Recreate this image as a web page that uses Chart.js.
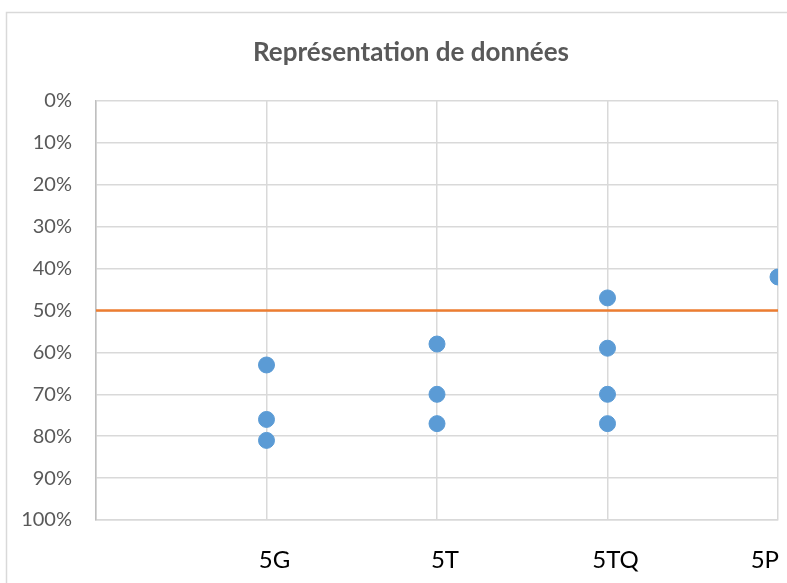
<!DOCTYPE html>
<html><head><meta charset="utf-8">
<script src="https://cdn.jsdelivr.net/npm/chart.js@4.4.0/dist/chart.umd.min.js"></script>
<style>html,body{margin:0;padding:0;background:#fff}#wrap{width:787px;height:583px}</style>
</head><body><div id="wrap"><canvas id="c" width="787" height="583"></canvas></div>
<script>
const categories = ['5G','5T','5TQ','5P'];
const values5G  = [63, 76, 81];
const values5T  = [58, 70, 77];
const values5TQ = [47, 59, 70, 77];
const values5P  = [42];
const seuil = 50;
const yTicks = [0,10,20,30,40,50,60,70,80,90,100];
const title = 'Représentation de données';

const groups = [values5G, values5T, values5TQ, values5P];
const points = [];
groups.forEach((g,i)=>g.forEach(v=>points.push({x:i+1,y:v})));

const deco = {
  id:'deco',
  beforeDraw(chart){
    const c = chart.ctx;
    c.save();
    c.strokeStyle='#d9d9d9'; c.lineWidth=1.5;
    c.strokeRect(6.5,12.5,900,700);
    c.restore();
  },
  afterDraw(chart){
    const c = chart.ctx, xs = chart.scales.x, a = chart.chartArea;
    c.save();
    c.fillStyle='#595959';
    c.font='bold 26px Lato';
    c.textAlign='center'; c.textBaseline='middle';
    c.fillText(title, 411, 53);
    c.fillStyle='#000';
    c.font='24px Lato';
    categories.forEach((lab,i)=>{
      const w = c.measureText(lab).width;
      let x = xs.getPixelForValue(i+1) + 8;
      if (x + w/2 > a.right + 1) x = a.right + 1 - w/2;
      c.fillText(lab, x, 560);
    });
    c.restore();
  }
};

new Chart(document.getElementById('c'), {
  type:'scatter',
  data:{datasets:[
    {type:'line', data:[{x:0,y:seuil},{x:4,y:seuil}], borderColor:'#ED7D31', borderWidth:2.5, pointRadius:0, order:2},
    {data:points, backgroundColor:'#5B9BD5', borderColor:'#5B9BD5', pointRadius:8, pointHoverRadius:8, order:1}
  ]},
  options:{
    responsive:false, animation:false, events:[],
    layout:{padding:{top:101, right:8, left:0, bottom:0}},
    plugins:{legend:{display:false}, tooltip:{enabled:false}, title:{display:false}},
    scales:{
      x:{type:'linear', min:0, max:4,
         ticks:{stepSize:1, display:false},
         grid:{color:'#d9d9d9', lineWidth:1.5, drawTicks:false},
         border:{color:'#d9d9d9', width:1.5},
         afterFit(s){ s.height = 63; }},
      y:{type:'linear', min:0, max:100, reverse:true,
         afterBuildTicks(s){ s.ticks = yTicks.map(v=>({value:v})); },
         ticks:{callback:v=>v+'%', color:'#595959', font:{family:'Lato', size:20}, padding:24},
         grid:{color:'#d9d9d9', lineWidth:1.5, drawTicks:false},
         border:{color:'#bfbfbf', width:1.5},
         afterFit(s){ s.width = 96; }}
    }
  },
  plugins:[deco]
});
</script></body></html>
